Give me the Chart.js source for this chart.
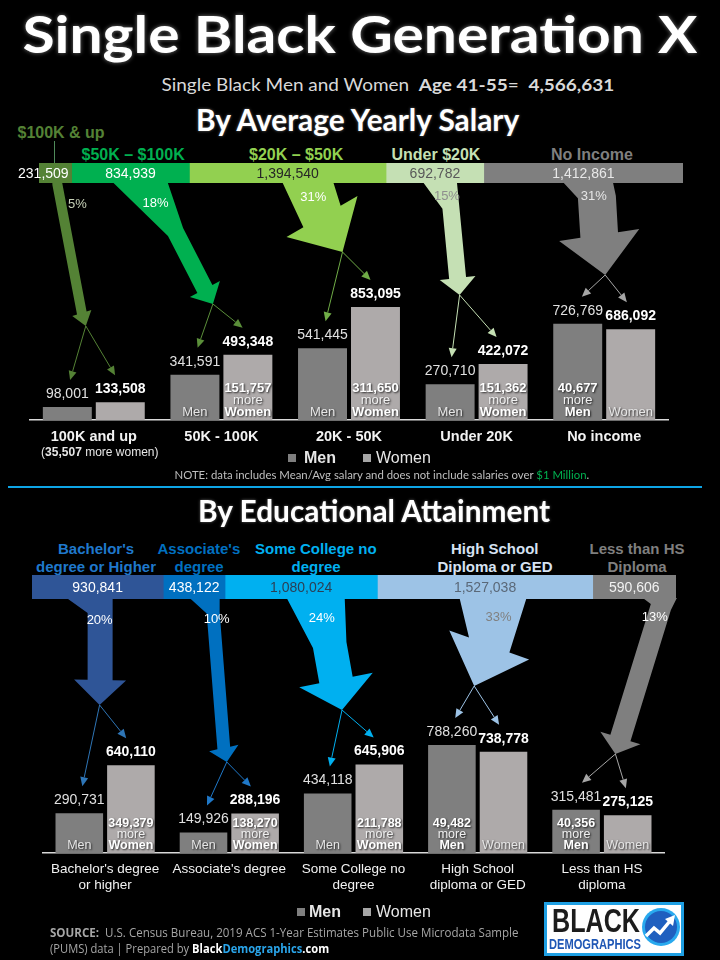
<!DOCTYPE html>
<html><head><meta charset="utf-8">
<script src="https://cdn.jsdelivr.net/npm/chart.js@4.4.1/dist/chart.umd.min.js"></script>
<style>
html,body{margin:0;padding:0;background:#000;}
#page{position:relative;width:720px;height:960px;overflow:hidden;background:#000;font-family:"Liberation Sans",Arial,sans-serif;}
.t{position:absolute;white-space:nowrap;line-height:1;}
canvas{position:absolute;left:0;}
</style></head>
<body><div id="page"></div>
<script>
// ---------------- DATA ----------------
const TOTAL = 4566631;
const salaryGroups = ['$100K & up', '$50K \u2013 $100K', '$20K \u2013 $50K', 'Under $20K', 'No Income'];
const salaryTotals = [231509, 834939, 1394540, 692782, 1412861];
const salaryCategories = ['100K and up', '50K - 100K', '20K - 50K', 'Under 20K', 'No income'];
const salaryMen = [98001, 341591, 541445, 270710, 726769];
const salaryWomen = [133508, 493348, 853095, 422072, 686092];

const eduGroups = [["Bachelor's", "degree or Higher"], ["Associate's", "degree"], ["Some College no", "degree"], ["High School", "Diploma or GED"], ["Less than HS", "Diploma"]];
const eduTotals = [930841, 438122, 1080024, 1527038, 590606];
const eduCategories = [["Bachelor's degree", "or higher"], ["Associate's degree"], ["Some College no", "degree"], ["High School", "diploma or GED"], ["Less than HS", "diploma"]];
const eduMen = [290731, 149926, 434118, 788260, 315481];
const eduWomen = [640110, 288196, 645906, 738778, 275125];

// ---------------- STYLE ----------------
const FONT = "'Liberation Sans', Arial, sans-serif";
const salColors = ['#548235', '#00b050', '#92d050', '#c5e0b4', '#7f7f7f'];
const salSegText = ['#ffffff', '#ffffff', '#262626', '#595959', '#e8e8e8'];
const salThin = ['#548235', '#5b8f3a', '#70ad47', '#c5e0b4', '#a6a6a6'];
const salPctCol = ['#c8d2b8', '#ffffff', '#ffffff', '#8e8e8e', '#e6e6e6'];
const eduColors = ['#2f5597', '#0070c0', '#00b0f0', '#9dc3e6', '#7f7f7f'];
const eduSegText = ['#ffffff', '#ffffff', '#2b3f55', '#5a6878', '#f2f2f2'];
const eduThin = ['#2e75b6', '#1f78c8', '#00b0f0', '#9dc3e6', '#a6a6a6'];
const eduPctCol = ['#ffffff', '#ffffff', '#ffffff', '#808080', '#ffffff'];
const MEN_COL = '#7f7f7f', WOMEN_COL = '#aeaaaa';

const page = document.getElementById('page');
const fmt = n => n.toLocaleString('en-US');

function txt(html, x, y, css, opts) {
  opts = opts || {};
  const d = document.createElement('div');
  d.className = 't'; d.innerHTML = html; d.style.cssText += css;
  page.appendChild(d);
  const w = d.offsetWidth, h = d.offsetHeight;
  const align = opts.align || 'center';
  const left = align === 'center' ? x - w / 2 : (align === 'left' ? x : x - w);
  d.style.left = left + 'px'; d.style.top = (y - h / 2) + 'px';
  d.style.transformOrigin = align === 'center' ? '50% 50%' : (align === 'left' ? '0 50%' : '100% 50%');
  if (opts.w) d.style.transform = 'scaleX(' + (opts.w / w) + ')';
  return d;
}
function box(x, y, w, h, col) {
  const d = document.createElement('div');
  d.style.cssText = `position:absolute;left:${x}px;top:${y}px;width:${w}px;height:${h}px;background:${col};`;
  page.appendChild(d); return d;
}
function mkCanvas(top, h) {
  const c = document.createElement('canvas');
  c.width = 720; c.height = h; c.style.top = top + 'px'; c.style.width = '720px'; c.style.height = h + 'px';
  page.appendChild(c); return c;
}

// ---------------- HEADINGS ----------------
txt('Single Black Generation X', 360, 33, "font:bold 52px Lato;color:#fff;text-shadow:0 0 4px rgba(170,170,170,0.7);", {w: 675});
txt('Single Black Men and Women&nbsp; <b>Age 41-55</b>=&nbsp; <b>4,566,631</b>', 388, 84, "font:17px Lato;color:#d9d9d9;", {w: 453});
txt('By Average Yearly Salary', 357, 119, "font:bold 30px Lato;color:#fff;text-shadow:0 0 3px rgba(170,170,170,0.6);", {w: 323});

const salLabelPos = [[61, 133], [133, 155], [296, 155], [436, 155], [592, 155]];
salaryGroups.forEach((g, i) => txt(g, salLabelPos[i][0], salLabelPos[i][1], `font:bold 16px ${FONT};color:${salColors[i]};`));
box(54, 141, 1, 22, '#4f8a5a');

// ---------------- STACK CHART PLUGIN ----------------
function segLabels(textColors) {
  return {
    id: 'segLabels',
    afterDatasetsDraw(chart) {
      const ctx = chart.ctx; ctx.save();
      ctx.font = '14px ' + FONT; ctx.textBaseline = 'middle';
      chart.data.datasets.forEach((ds, i) => {
        const el = chart.getDatasetMeta(i).data[0];
        const p = el.getProps(['x', 'base', 'y'], true);
        const s = fmt(ds.data[0]); const w = ctx.measureText(s).width;
        ctx.fillStyle = textColors[i];
        if (w > (p.x - p.base) - 4) { ctx.textAlign = 'right'; ctx.fillText(s, p.x - 3, p.y + 1); }
        else { ctx.textAlign = 'center'; ctx.fillText(s, (p.x + p.base) / 2, p.y + 1); }
      });
      ctx.restore();
    }
  };
}
function makeStack(top, h, padL, padR, totals, labels, colors, textColors) {
  const c = mkCanvas(top, h);
  return new Chart(c, {
    type: 'bar',
    data: { labels: ['all'], datasets: totals.map((v, i) => ({ label: String(labels[i]), data: [v], backgroundColor: colors[i], borderWidth: 0, barPercentage: 1, categoryPercentage: 1 })) },
    options: {
      indexAxis: 'y', responsive: false, animation: false, events: [],
      layout: { padding: { left: padL, right: padR, top: 0, bottom: 0 } },
      scales: { x: { stacked: true, display: false, min: 0, max: TOTAL }, y: { stacked: true, display: false } },
      plugins: { legend: { display: false }, tooltip: { enabled: false } }
    },
    plugins: [segLabels(textColors)]
  });
}

// ---------------- GROUPED CHART PLUGINS ----------------
function barLabels(cfg) {
  return {
    id: 'barLabels',
    afterDatasetsDraw(chart) {
      const ctx = chart.ctx; ctx.save();
      ctx.textAlign = 'center'; ctx.textBaseline = 'middle';
      const m0 = chart.getDatasetMeta(0), m1 = chart.getDatasetMeta(1);
      const men = chart.data.datasets[0].data, women = chart.data.datasets[1].data;
      const bottom = chart.chartArea.bottom;
      const shadowOn = () => { ctx.shadowColor = 'rgba(0,0,0,0.75)'; ctx.shadowOffsetX = 1; ctx.shadowOffsetY = 1; ctx.shadowBlur = 2; };
      const shadowOff = () => { ctx.shadowColor = 'transparent'; ctx.shadowBlur = 0; ctx.shadowOffsetX = 0; ctx.shadowOffsetY = 0; };
      for (let i = 0; i < men.length; i++) {
        const a = m0.data[i], b = m1.data[i];
        shadowOff();
        ctx.font = '14px ' + FONT; ctx.fillStyle = '#e0e0e0';
        ctx.fillText(fmt(men[i]), a.x, a.y - 13);
        ctx.font = 'bold 14px ' + FONT; ctx.fillStyle = '#ffffff';
        ctx.fillText(fmt(women[i]), b.x, b.y - 13);
        const womenMore = women[i] > men[i];
        const diff = Math.abs(women[i] - men[i]);
        const big = womenMore ? b : a, small = womenMore ? a : b;
        const bigName = womenMore ? 'Women' : 'Men', smallName = womenMore ? 'Men' : 'Women';
        const fs = cfg.fs, o = cfg.off;
        shadowOn();
        if (bottom - big.y >= 36) {
          ctx.fillStyle = '#ffffff';
          ctx.font = `bold ${fs}px ${FONT}`; ctx.fillText(fmt(diff), big.x, bottom + o[0]);
          ctx.font = `${fs}px ${FONT}`; ctx.fillStyle = '#f0f0f0'; ctx.fillText('more', big.x, bottom + o[1]);
          ctx.font = `bold ${fs}px ${FONT}`; ctx.fillStyle = '#ffffff'; ctx.fillText(bigName, big.x, bottom + o[2]);
          if (bottom - small.y >= 15) {
            ctx.font = `${fs}px ${FONT}`; ctx.fillStyle = '#e6e6e6'; ctx.fillText(smallName, small.x, bottom + o[2]);
          }
        } else {
          shadowOff();
          // sub-line under the category label
          const cx = chart.scales.x.getPixelForValue(i) + 6, cy = bottom + 33;
          const parts = [['(', '12px '], [fmt(diff), 'bold 12px '], [' more ' + bigName.toLowerCase() + ')', '12px ']];
          let tw = 0; parts.forEach(p => { ctx.font = p[1] + FONT; tw += ctx.measureText(p[0]).width; });
          let x = cx - tw / 2; ctx.textAlign = 'left'; ctx.fillStyle = '#e6e6e6';
          parts.forEach(p => { ctx.font = p[1] + FONT; ctx.fillText(p[0], x, cy); x += ctx.measureText(p[0]).width; });
          ctx.textAlign = 'center';
        }
      }
      ctx.restore();
    }
  };
}

function thinArrow(ctx, a, b, col) {
  const dx = b.x - a.x, dy = b.y - a.y, L = Math.hypot(dx, dy), ux = dx / L, uy = dy / L;
  const hl = 9, hw = 4;
  ctx.strokeStyle = col; ctx.lineWidth = 1;
  ctx.beginPath(); ctx.moveTo(a.x, a.y); ctx.lineTo(b.x - ux * hl, b.y - uy * hl); ctx.stroke();
  ctx.fillStyle = col; ctx.beginPath(); ctx.moveTo(b.x, b.y);
  ctx.lineTo(b.x - ux * hl - uy * hw, b.y - uy * hl + ux * hw);
  ctx.lineTo(b.x - ux * hl + uy * hw, b.y - uy * hl - ux * hw);
  ctx.closePath(); ctx.fill();
}

function arrows(stack, totals, specs, colors, thinCols, pctCols, canvasTop, stackBottom) {
  return {
    id: 'arrows',
    beforeDatasetsDraw(chart) {
      const ctx = chart.ctx; ctx.save();
      const xs = chart.scales.x, sx = stack.scales.x;
      const m0 = chart.getDatasetMeta(0), m1 = chart.getDatasetMeta(1);
      const Y = y => y - canvasTop;
      let cum = 0;
      specs.forEach((s, i) => {
        const v = totals[i];
        const sc = sx.getPixelForValue(cum + v / 2); cum += v;
        const cc = xs.getPixelForValue(i);
        const yTop = Y(stackBottom - 1);
        const base = { x: cc + s.base[0], y: Y(s.base[1]) };
        const tip = { x: cc + s.tip[0], y: Y(s.tip[1]) };
        const hd = { x: tip.x - base.x, y: tip.y - base.y }; const hL = Math.hypot(hd.x, hd.y);
        const LH = { x: -hd.y / hL, y: hd.x / hL };
        const pts = [{ x: sc + s.top[0], y: yTop }];
        if (s.neck) {
          const neck = { x: sc + s.neck[0], y: Y(s.neck[1]) };
          const sd = { x: base.x - neck.x, y: base.y - neck.y }; const sL = Math.hypot(sd.x, sd.y);
          const LS = { x: -sd.y / sL, y: sd.x / sL };
          pts.push({ x: neck.x + LS.x * s.w / 2, y: neck.y + LS.y * s.w / 2 });
          var neckR = { x: neck.x - LS.x * s.w / 2, y: neck.y - LS.y * s.w / 2 };
        }
        pts.push({ x: base.x + LH.x * s.w / 2, y: base.y + LH.y * s.w / 2 });
        pts.push({ x: base.x + LH.x * s.hw / 2, y: base.y + LH.y * s.hw / 2 });
        pts.push(tip);
        pts.push({ x: base.x - LH.x * s.hw / 2, y: base.y - LH.y * s.hw / 2 });
        pts.push({ x: base.x - LH.x * s.w / 2, y: base.y - LH.y * s.w / 2 });
        if (s.neck) pts.push(neckR);
        pts.push({ x: sc + s.top[1], y: yTop });
        ctx.fillStyle = colors[i];
        ctx.beginPath(); pts.forEach((p, k) => k ? ctx.lineTo(p.x, p.y) : ctx.moveTo(p.x, p.y)); ctx.closePath(); ctx.fill();
        // thin arrows to the bars
        [m0.data[i], m1.data[i]].forEach(el => {
          thinArrow(ctx, tip, { x: el.x + 0.15 * (tip.x - el.x), y: el.y - 27 }, thinCols[i]);
        });
        // percentage
        ctx.font = '13px ' + FONT; ctx.textAlign = 'center'; ctx.textBaseline = 'middle';
        ctx.fillStyle = pctCols[i];
        ctx.fillText(Math.round(v / TOTAL * 100) + '%', sc + s.pct[0], Y(s.pct[1]));
      });
      ctx.restore();
    }
  };
}

function makeGrouped(top, h, pad, axisH, cats, men, women, tickFont, bp, cp, extraPlugins, labelCfg) {
  const c = mkCanvas(top, h);
  return new Chart(c, {
    type: 'bar',
    data: {
      labels: cats, datasets: [
        { label: 'Men', data: men, backgroundColor: MEN_COL, borderWidth: 0, barPercentage: bp, categoryPercentage: cp },
        { label: 'Women', data: women, backgroundColor: WOMEN_COL, borderWidth: 0, barPercentage: bp, categoryPercentage: cp }
      ]
    },
    options: {
      responsive: false, animation: false, events: [],
      layout: { padding: pad },
      scales: {
        x: {
          grid: { display: false, drawTicks: false },
          border: { display: true, color: '#d9d9d9', width: 1.5 },
          ticks: { color: '#f2f2f2', font: tickFont, padding: 8, maxRotation: 0, autoSkip: false },
          afterFit(s) { s.height = axisH; }
        },
        y: { display: false, min: 0, max: 900000 }
      },
      plugins: { legend: { display: false }, tooltip: { enabled: false } }
    },
    plugins: extraPlugins.concat([barLabels(labelCfg)])
  });
}

// ---------------- SALARY SECTION ----------------
const salStack = makeStack(163, 20, 39, 37, salaryTotals, salaryGroups, salColors, salSegText);
const salSpecs = [
  { top: [-3, 7], neck: [2, 184], w: 10, base: [-12, 313], hw: 20, tip: [-8, 326], pct: [22, 204] },
  { top: [-18, 37], neck: [45, 232], w: 17, base: [-16.5, 289], hw: 34, tip: [-8.5, 304], pct: [25, 203] },
  { top: [-5.5, 45.5], neck: null, w: 43, base: [-27, 216.5], hw: 82, tip: [-6.5, 252], pct: [25.5, 197] },
  { top: [-12, 22], neck: [16, 208], w: 17, base: [-19, 278], hw: 36, tip: [-17, 295], pct: [12, 196] },
  { top: [-20.5, 29.5], neck: [13.5, 197], w: 38, base: [-5, 235], hw: 81, tip: [1, 275], pct: [10.5, 196] }
];
makeGrouped(181, 300, { left: 30, right: 52, top: 119.8, bottom: 15 }, 46, salaryCategories, salaryMen, salaryWomen,
  { family: FONT, size: 14.5, weight: 'bold' }, 0.9245, 0.83,
  [arrows(salStack, salaryTotals, salSpecs, salColors, salThin, salPctCol, 181, 183)],
  { fs: 13, off: [-32, -20, -8] });

// legend + note
box(288, 454, 8, 8, '#7f7f7f');
txt('Men', 304, 458, `font:bold 16px ${FONT};color:#e6e6e6;`, { align: 'left' });
box(363, 454, 8, 8, '#a6a6a6');
txt('Women', 376, 458, `font:16px ${FONT};color:#e6e6e6;`, { align: 'left' });
txt('NOTE: data includes Mean/Avg salary and does not include salaries over <span style="color:#00b050">$1 Million</span>.', 381.5, 474, "font:12px Lato;color:#bfbfbf;", { w: 415 });

box(8, 486, 694, 2, '#0ea5e6');

// ---------------- EDUCATION SECTION ----------------
txt('By Educational Attainment', 374, 510, "font:bold 30px Lato;color:#fff;text-shadow:0 0 3px rgba(170,170,170,0.6);", { w: 352 });
const eduLabelX = [96, 199, 316, 495, 637];
const eduLabelCol = ['#1f78cc', '#0070c0', '#00b0f0', '#d6e2f2', '#7f7f7f'];
eduGroups.forEach((g, i) => {
  txt(g[0], eduLabelX[i], 548, `font:bold 15px ${FONT};color:${eduLabelCol[i]};`);
  txt(g[1], eduLabelX[i], 566, `font:bold 15px ${FONT};color:${eduLabelCol[i]};`);
});

const eduStack = makeStack(575, 24, 32, 44, eduTotals, eduGroups.map(g => g.join(' ')), eduColors, eduSegText);
const eduSpecs = [
  { top: [-31, 15], neck: [2.5, 613], w: 25, base: [-5, 680], hw: 52, tip: [-5.5, 705], pct: [2, 620] },
  { top: [-4.5, 25.5], neck: [19, 613], w: 13, base: [-5.5, 748], hw: 30, tip: [-2.5, 762], pct: [22.5, 619] },
  { top: [-14.5, 43.5], neck: [28.5, 645], w: 34, base: [-17.5, 680], hw: 75, tip: [-11.5, 710], pct: [20.5, 618] },
  { top: [-25.5, 41.5], neck: null, w: 43, base: [11.5, 645], hw: 85, tip: [-3.5, 686], pct: [13.5, 617] },
  { top: [8.5, 42.5], neck: [26.5, 607], w: 21, base: [18.5, 738], hw: 42, tip: [13.5, 754], pct: [20.5, 617] }
];
makeGrouped(597, 322, { left: 43, right: 56, top: 132.7, bottom: 16 }, 50, eduCategories, eduMen, eduWomen,
  { family: FONT, size: 13.5, weight: 'normal' }, 0.922, 0.831,
  [arrows(eduStack, eduTotals, eduSpecs, eduColors, eduThin, eduPctCol, 597, 599)],
  { fs: 12.5, off: [-29, -18, -7] });

box(297, 908, 8, 8, '#7f7f7f');
txt('Men', 309, 912, `font:bold 16px ${FONT};color:#e6e6e6;`, { align: 'left' });
box(363, 908, 8, 8, '#a6a6a6');
txt('Women', 376, 912, `font:16px ${FONT};color:#e6e6e6;`, { align: 'left' });

// source
txt('<b>SOURCE:</b>&nbsp; U.S. Census Bureau, 2019 ACS 1-Year Estimates Public Use Microdata Sample', 50, 932, "font:12px 'Open Sans';color:#a6a6a6;", { align: 'left', w: 469 });
txt('(PUMS) data | Prepared by <b style="color:#fff">Black</b><b style="color:#2aa5ea">Demographics</b><b style="color:#fff">.com</b>', 50, 948, "font:12px 'Open Sans';color:#a6a6a6;", { align: 'left', w: 279 });

// logo
const logo = document.createElement('div');
logo.style.cssText = 'position:absolute;left:544px;top:902px;width:140px;height:54px;';
logo.innerHTML = `<svg width="140" height="54" xmlns="http://www.w3.org/2000/svg">
<rect x="1.5" y="1.5" width="137" height="51" fill="#ffffff" stroke="#1e9fe3" stroke-width="3"/>
<text x="8" y="30" font-family="Liberation Sans, Arial" font-weight="bold" font-size="34" fill="#1c1c1c" textLength="88" lengthAdjust="spacingAndGlyphs">BLACK</text>
<text x="5" y="47" font-family="Liberation Sans, Arial" font-weight="bold" font-size="15" fill="#1f57b5" textLength="92" lengthAdjust="spacingAndGlyphs">DEMOGRAPHICS</text>
<circle cx="117" cy="25" r="19" fill="#29a9ee"/>
<circle cx="117" cy="25" r="16" fill="#1f5fbf"/>
<polyline points="102,34 110,26 116,31 126,19" stroke="#ffffff" stroke-width="3.5" fill="none" stroke-linejoin="miter"/>
<polygon points="131,13 129,24 121,17" fill="#ffffff"/>
</svg>`;
page.appendChild(logo);
</script>
</body></html>
